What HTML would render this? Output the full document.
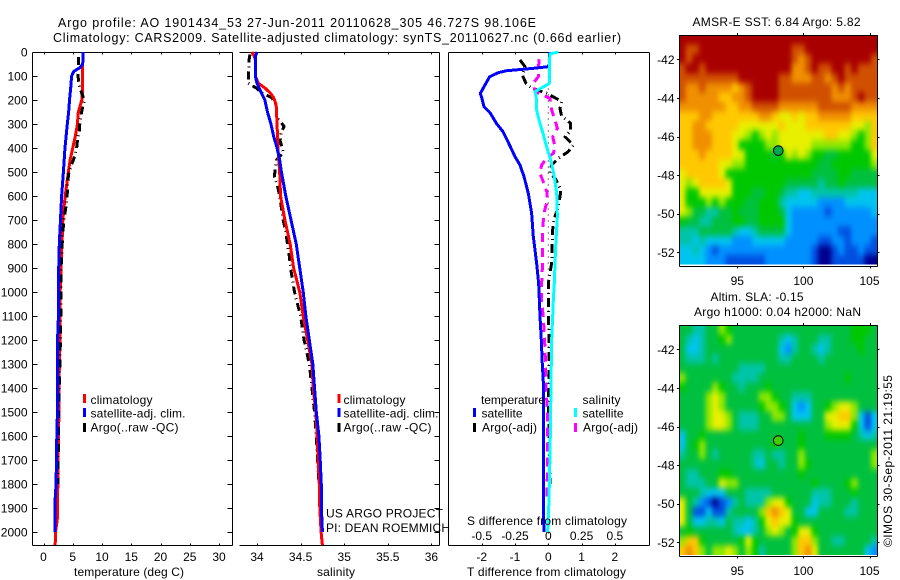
<!DOCTYPE html>
<html lang="en">
<head>
<meta charset="utf-8">
<title>Argo profile chart</title>
<style>
html,body{margin:0;padding:0;background:#fff;}
svg{display:block;}
text{font-family:"Liberation Sans",Arial,sans-serif;font-size:12px;fill:#000;}
text.big{font-size:12.5px;}
</style>
</head>
<body>
<svg id="chart" xmlns="http://www.w3.org/2000/svg" width="900" height="580" viewBox="0 0 900 580">
  <defs>
    <filter id="map-smooth" filterUnits="userSpaceOnUse" x="640" y="0" width="260" height="580" color-interpolation-filters="sRGB">
      <feGaussianBlur stdDeviation="2.4 3.2"/>
    </filter>
    <clipPath id="clip-sst"><rect x="679" y="35" width="199" height="229.5"/></clipPath>
    <clipPath id="clip-sla"><rect x="679" y="325" width="199" height="230"/></clipPath>
  </defs>
  <rect x="0" y="0" width="900" height="580" fill="#fff"/>
  <text class="big" x="58" y="27" textLength="478">Argo profile: AO 1901434_53 27-Jun-2011 20110628_305 46.727S 98.106E</text>
  <text class="big" x="53" y="42" textLength="568">Climatology: CARS2009. Satellite-adjusted climatology: synTS_20110627.nc (0.66d earlier)</text>

  <g id="panel-t"></g>
  <g id="panel-s"></g>
  <g id="panel-d"></g>
  <g id="map-sst"></g>
  <g id="map-sla"></g>

  <text x="74" y="576" textLength="110">temperature (deg C)</text>
  <text x="317" y="576" textLength="38">salinity</text>
  <text x="467" y="576" textLength="159">T difference from climatology</text>
  <text x="467" y="525" textLength="160">S difference from climatology</text>

  <g>
    <rect x="83" y="394" width="3" height="9" fill="#f00"/>
    <text x="90.5" y="404" textLength="62">climatology</text>
    <rect x="83" y="408" width="3" height="9" fill="#00f"/>
    <text x="90.5" y="417.5" textLength="95">satellite-adj. clim.</text>
    <rect x="83" y="423" width="3" height="9" fill="#000"/>
    <text x="90.5" y="431.5" textLength="88">Argo(..raw -QC)</text>
  </g>
  <g>
    <rect x="337.5" y="394" width="3" height="9" fill="#f00"/>
    <text x="343.5" y="404" textLength="62">climatology</text>
    <rect x="337.5" y="408" width="3" height="9" fill="#00f"/>
    <text x="343.5" y="417.5" textLength="95">satellite-adj. clim.</text>
    <rect x="337.5" y="423" width="3" height="9" fill="#000"/>
    <text x="343.5" y="431.5" textLength="88">Argo(..raw -QC)</text>
  </g>
  <text x="326" y="517.5" textLength="117">US ARGO PROJECT</text>
  <text x="326" y="532" textLength="124">PI: DEAN ROEMMICH</text>

  <g>
    <text x="481" y="404" textLength="64">temperature</text>
    <rect x="473" y="408" width="3" height="9" fill="#00f"/>
    <text x="481.5" y="417.5" textLength="41">satellite</text>
    <rect x="473" y="423" width="3" height="9" fill="#000"/>
    <text x="482" y="431.5" textLength="55">Argo(-adj)</text>
    <text x="582.5" y="404" textLength="38">salinity</text>
    <rect x="574" y="408" width="3" height="9" fill="#0ff"/>
    <text x="582.5" y="417.5" textLength="41">satellite</text>
    <rect x="574" y="423" width="3" height="9" fill="#f0f"/>
    <text x="583" y="431.5" textLength="55">Argo(-adj)</text>
  </g>

  <text x="692.5" y="26" textLength="168">AMSR-E SST: 6.84 Argo: 5.82</text>
  <text x="710.5" y="301" textLength="93">Altim. SLA: -0.15</text>
  <text x="694" y="316" textLength="167">Argo h1000: 0.04 h2000: NaN</text>
  <text transform="translate(892,547) rotate(-90)" x="0" y="0" textLength="172">©IMOS 30-Sep-2011 21:19:55</text>
</svg>
<script>
/* ---------- axis tick data ---------- */
const depthTicks = [0,100,200,300,400,500,600,700,800,900,1000,1100,1200,1300,1400,1500,1600,1700,1800,1900,2000];
const tempTicks = [0,5,10,15,20,25,30];
const salTicks = [34,34.5,35,35.5,36];
const salTickLabels = ['34','34.5','35','35.5','36'];
const tDiffTicks = [-2,-1,0,1,2];
const sDiffTicks = [-0.5,-0.25,0,0.25,0.5];
const sDiffTickLabels = ['-0.5','-0.25','0','0.25','0.5'];
const lonTicks = [95,100,105];
const latTicks = [-42,-44,-46,-48,-50,-52];

/* ---------- temperature profiles ---------- */
const tClimDepth = [50,170,200,250,300,350,400,450,500,600,700,800,900,1000,1200,1300,1500,1600,1800,1950,2000,2055];
const tClimValue = [6.65,6.65,6.55,5.95,5.8,5.45,5.0,4.55,4.25,3.7,3.3,3.15,3.0,2.85,2.85,2.7,2.65,2.55,2.45,2.35,2.05,2.0];
const tSatDepth = [0,50,65,80,100,150,200,250,300,400,500,600,700,800,900,1000,1100,1200,1500,1560,1800,1860,2000];
const tSatValue = [6.8,6.7,6.25,5.2,4.8,4.65,4.45,4.3,4.07,3.67,3.4,3.1,2.9,2.7,2.6,2.55,2.55,2.4,2.4,2.3,2.15,2.0,2.0];
const tArgoDepth = [20,100,140,180,200,250,300,340,350,400,430,470,500,550,600,650,700,750,800,900,1000,1100,1250,1400,1500,1800];
const tArgoValue = [6.0,5.9,6.1,6.65,7.0,6.5,6.2,6.1,5.9,5.66,5.4,4.8,4.35,4.1,4.05,3.8,3.5,3.3,3.2,3.0,3.0,2.95,2.85,2.7,2.55,2.5];

/* ---------- salinity profiles ---------- */
const sClimDepth = [0,10,30,100,130,150,170,190,220,300,400,500,600,700,800,900,1000,1100,1200,1300,1400,1500,1600,1700,1800,1900,2000,2055];
const sClimValue = [33.94,33.96,33.98,33.98,34.015,34.09,34.15,34.19,34.22,34.23,34.24,34.26,34.27,34.32,34.38,34.42,34.49,34.53,34.58,34.63,34.645,34.675,34.69,34.70,34.715,34.72,34.735,34.75];
const sSatDepth = [0,20,100,130,170,200,250,300,350,400,450,500,600,700,800,900,1000,1100,1200,1300,1400,1500,1600,1700,1800,1900,1950,2000];
const sSatValue = [34.0,33.98,33.98,34.0,34.05,34.09,34.12,34.16,34.19,34.23,34.26,34.28,34.33,34.39,34.45,34.49,34.53,34.56,34.6,34.64,34.66,34.68,34.71,34.725,34.737,34.737,34.745,34.75];
const sArgoDepth = [10,30,70,100,130,150,170,190,220,270,290,310,340,370,400,420,450,480,520,550,600,650,700,750,800,850,900,1000,1030,1100,1200,1300,1400,1500,1600,1700,1800];
const sArgoValue = [33.92,33.91,33.905,33.90,33.90,33.99,34.05,34.17,34.22,34.225,34.27,34.31,34.275,34.265,34.29,34.30,34.225,34.21,34.2,34.23,34.26,34.28,34.30,34.33,34.35,34.37,34.385,34.43,34.45,34.5,34.54,34.6,34.63,34.66,34.68,34.695,34.71];

/* ---------- difference profiles ---------- */
const dTSatDepth = [0,50,61,68,78,86,103,137,172,200,228,255,297,332,380,436,471,519,589,672,769,880,964,1030,1100,1200,1300,1400,1600,1800,1900,2000];
const dTSatValue = [0.03,0.03,0,-0.45,-1.25,-1.5,-1.76,-1.9,-2.04,-1.98,-1.93,-1.74,-1.56,-1.36,-1.19,-1.0,-0.85,-0.73,-0.6,-0.5,-0.45,-0.35,-0.29,-0.27,-0.25,-0.21,-0.18,-0.14,-0.15,-0.15,-0.15,-0.13];
const dTArgoDepth = [33,61,96,130,151,172,193,207,235,267,297,329,353,388,415,443,471,505,525,575,603,644,700,742,880,964,1030,1200,1500,1800];
const dTArgoValue = [-0.85,-0.7,-0.78,-0.67,-0.5,-0.05,0.23,0.4,0.35,0.4,0.67,0.67,0.5,0.75,0.6,0.3,0.1,0.05,0.2,0.38,0.35,0.3,0.17,0.13,0.1,0,0,0.02,0.01,0.05];
const dSSatDepth = [0,8,47,130,137,165,193,235,283,339,394,464,519,589,686,811,964,1030,1100,1200,1400,1600,1800,1900,2000];
const dSSatValue = [0.075,0.0125,0.008,0.008,-0.01,-0.1,-0.09,-0.09,-0.07,-0.04,-0.013,0.025,0.045,0.063,0.068,0.055,0.045,0.038,0.033,0.025,0.02,0.015,0.008,0.003,-0.005];
const dSArgoDepth = [30,68,103,130,165,193,242,283,318,353,394,422,443,471,505,540,589,630,672,742,880,964,1030,1100,1200,1300,1400,1500,1800,1860];
const dSArgoValue = [-0.068,-0.075,-0.075,-0.113,-0.1,0.0125,0.025,0.05,0.068,0.033,0.05,0.038,-0.0125,-0.05,-0.063,-0.038,-0.008,-0.0125,-0.033,-0.043,-0.043,-0.05,-0.053,-0.038,-0.028,-0.02,-0.018,-0.005,-0.008,-0.008];

/* ---------- map values (colour level per grid cell, north row first) ---------- */
const sstGrid = [
[12,12,12,12,12,12,12,12,12,12,12,12,12,12,12,12,12,12,12,12,12,12,12,12,12,12,12,12,12,12],
[12,11,11,12,12,12,12,12,12,12,12,12,12,12,12,12,12,11,11,12,12,12,12,12,12,12,12,12,12,12],
[12,11,12,12,12,12,12,12,12,12,12,12,12,12,12,12,12,11,10,11,12,12,12,12,12,12,12,12,12,11],
[11,12,12,11,12,12,12,12,12,12,12,12,12,12,12,12,12,10,10,11,12,11,11,12,12,11,12,11,11,11],
[11,11,11,11,11,11,11,11,11,12,12,12,12,12,12,11,11,10,10,10,11,11,10,11,12,11,11,11,11,11],
[11,10,10,11,10,10,10,10,9,10,11,12,12,12,12,11,11,11,11,11,11,11,11,10,11,10,11,11,11,11],
[11,10,10,10,10,10,9,9,10,10,11,12,12,12,12,11,11,11,11,11,11,11,11,10,10,10,11,12,11,11],
[10,10,10,10,10,10,10,9,9,10,10,11,11,11,11,10,10,10,10,10,10,11,11,11,11,11,10,10,10,10],
[9,9,9,10,10,9,9,9,9,9,9,9,10,10,9,8,8,9,8,9,9,10,10,10,10,10,9,9,9,9],
[9,9,10,10,9,9,9,9,9,8,8,8,8,8,8,9,8,8,8,9,9,9,9,9,9,9,8,8,7,9],
[9,9,10,10,10,9,9,9,8,8,7,6,7,8,7,8,8,8,8,8,8,8,9,9,8,8,7,6,7,9],
[9,9,10,10,10,9,9,9,8,6,6,6,6,7,7,8,8,8,8,8,7,7,7,7,7,7,6,6,7,9],
[9,9,9,10,9,9,9,9,8,8,6,6,6,6,5,6,8,7,8,7,6,6,5,5,6,6,6,6,6,8],
[9,9,9,9,9,9,8,8,7,7,6,6,6,6,6,6,6,6,6,6,6,5,5,6,6,6,6,6,6,7],
[8,9,9,9,9,9,8,6,6,6,6,6,6,6,6,6,6,6,6,6,5,5,5,5,6,6,5,5,5,5],
[8,7,8,9,9,9,9,8,6,6,6,6,6,6,6,6,5,5,5,5,5,4,5,5,6,5,5,5,5,5],
[8,6,6,8,8,8,8,8,6,6,6,5,5,6,6,5,4,4,3,3,4,4,4,4,4,4,4,3,3,3],
[8,6,6,6,7,6,7,6,6,6,5,5,6,6,6,4,3,3,3,3,3,2,2,2,2,3,3,3,3,3],
[8,7,5,5,4,4,5,5,6,5,5,5,6,6,6,5,3,2,2,2,2,2,1,2,2,2,2,2,2,3],
[6,5,5,4,4,5,5,5,6,6,5,5,6,6,6,6,3,2,2,2,2,2,2,2,2,2,2,2,2,2],
[4,4,4,5,5,5,5,5,4,3,3,4,5,5,5,5,3,2,2,2,2,2,2,2,1,1,2,2,2,2],
[4,4,3,4,3,3,3,3,2,2,2,3,3,3,3,3,2,2,2,2,2,1,1,2,2,1,2,2,2,1],
[3,3,4,3,2,1,2,2,2,2,2,2,2,2,2,2,2,2,2,2,1,0,0,1,2,1,1,2,1,1],
[3,3,3,3,2,2,2,1,1,1,1,1,1,2,2,2,2,2,2,2,1,0,0,1,1,1,1,1,0,0]
];
const slaGrid = [
[5,5,4,4,5,5,7,6,5,5,5,5,5,5,5,5,5,5,5,5,5,5,5,5,5,5,6,6,6,5],
[5,4,3,4,5,5,6,7,5,5,5,5,5,5,5,4,3,4,5,5,5,4,4,5,5,5,6,6,5,5],
[5,3,3,4,5,5,5,5,5,5,5,5,5,5,5,3,2,4,5,5,4,3,4,5,5,5,5,6,5,5],
[5,4,4,4,5,4,5,5,5,5,5,5,5,5,5,4,4,5,5,5,5,4,5,5,5,5,5,5,5,5],
[5,5,5,5,5,5,5,5,5,4,4,4,4,5,5,5,5,5,5,5,5,5,5,5,5,5,5,5,5,5],
[7,5,5,5,5,5,5,5,4,4,4,4,5,5,5,5,5,5,5,5,5,5,5,5,5,6,5,5,5,5],
[6,5,5,5,5,7,6,5,5,4,5,5,5,6,5,5,5,5,5,5,5,5,5,5,5,5,5,5,5,5],
[5,5,5,5,7,8,7,5,5,5,5,5,7,7,6,5,5,4,4,4,5,5,5,5,5,5,5,5,5,5],
[5,5,5,5,7,8,7,5,5,5,5,5,6,7,7,6,5,3,2,3,5,5,6,7,8,8,7,5,5,5],
[5,5,5,5,7,8,8,7,5,4,4,4,5,5,7,7,5,3,3,3,5,5,8,8,9,9,7,3,1,3],
[5,5,5,5,7,8,8,7,5,4,4,4,5,5,5,5,5,5,5,5,5,5,7,8,8,8,6,3,1,3],
[3,5,5,6,5,5,5,5,5,5,5,5,5,5,5,5,5,5,6,5,5,5,6,6,6,6,5,4,3,4],
[3,5,6,7,5,5,5,5,5,5,5,5,5,5,6,5,5,5,6,5,5,5,5,5,5,5,5,5,5,5],
[4,5,5,7,5,4,5,5,5,5,5,4,4,5,4,4,5,5,7,5,5,5,5,5,5,5,5,5,5,7],
[5,5,5,5,5,5,5,5,5,5,5,4,3,5,5,4,5,5,7,6,5,5,5,5,5,5,5,5,5,7],
[5,4,4,5,5,5,6,6,5,5,5,5,5,5,5,5,5,5,6,5,5,5,5,5,5,5,5,5,5,5],
[5,4,4,4,5,5,8,7,7,5,5,5,5,5,5,5,5,5,5,5,6,5,5,5,5,6,7,5,5,5],
[5,5,5,4,3,3,3,5,5,5,4,4,4,4,5,5,5,5,5,5,4,4,4,5,5,5,6,5,5,5],
[8,5,4,2,1,0,1,2,4,5,4,4,4,7,8,8,6,5,5,5,3,4,4,5,5,5,4,5,5,5],
[8,5,1,1,3,1,1,4,5,5,5,5,7,9,10,9,8,5,5,3,3,5,5,5,5,4,4,5,5,5],
[8,5,3,3,4,4,3,5,4,4,3,4,6,8,9,8,8,6,5,5,5,5,5,5,5,5,5,5,5,5],
[5,6,5,5,5,5,5,5,4,3,3,4,5,7,8,7,5,6,8,8,6,5,5,5,5,5,5,5,5,5],
[7,9,9,6,5,5,5,5,5,6,8,6,5,5,5,5,5,7,9,9,7,5,5,4,4,5,5,5,5,4],
[9,10,9,7,5,7,7,8,7,5,7,6,4,5,5,5,5,7,9,10,8,5,5,5,5,5,5,5,3,2]
];
const argoLon = 98.1;
const argoLat = -46.73;

/* ---------- helpers and axis functions ---------- */
const NS = 'http://www.w3.org/2000/svg';
const colourScale = ['#000090','#0050e0','#0090ff','#00c4f0','#00c4a8','#00c040','#00c800','#90e800','#e8f000','#ffc800','#f09000','#d05000','#a80000'];

function make(parent, tag, attrs, txt) {
  const el = document.createElementNS(NS, tag);
  for (const k in attrs) el.setAttribute(k, attrs[k]);
  if (txt !== undefined) el.textContent = txt;
  parent.appendChild(el);
  return el;
}
const PTOP = 52.5, PBOT = 545.5;
const yDepth = d => 52 + 0.24 * d;
const xTemp = t => 43.5 + 5.85 * t;
const xSal = s => 257 + 87.2 * (s - 34);
const xTDiff = t => 548.3 + 33.3 * t;
const xSDiff = s => 548.3 + 133.2 * s;
const mapX = lon => 737.3 + 13.22 * (lon - 95);

function line(parent, x1, y1, x2, y2, w) {
  return make(parent, 'line', {x1:x1, y1:y1, x2:x2, y2:y2, stroke:'#000', 'stroke-width':w || 1, 'shape-rendering':'crispEdges'});
}
function label(parent, x, y, anchor, txt) {
  return make(parent, 'text', {x:x, y:y, 'text-anchor':anchor}, txt);
}
function series(parent, depths, values, xf, colour, width, dash, name) {
  const pts = depths.map((d, i) => xf(values[i]).toFixed(2) + ',' + yDepth(d).toFixed(2)).join(' ');
  const attrs = {points:pts, fill:'none', stroke:colour, 'stroke-width':width, 'stroke-linejoin':'round', 'shape-rendering':'crispEdges'};
  if (dash) attrs['stroke-dasharray'] = dash;
  const el = make(parent, 'polyline', attrs);
  
  
  return el;
}
function frame(parent, x0, x1, opts) {
  const top = line(parent, x0, PTOP, x1, PTOP);
  
  
  const bottom = line(parent, x0, PBOT, x1, PBOT);
  
  
  const right = line(parent, x1, PTOP, x1, PBOT);
  
  
  if (opts.left) {
    const left = line(parent, x0, PTOP, x0, PBOT);
    
    
  }
  if (opts.depthTicks) {
    depthTicks.forEach(d => {
      const y = Math.round(yDepth(d)) + 0.5;
      if (opts.left) {
        const a = line(parent, x0, y, x0 + 5, y);
        
        
      }
      const b = line(parent, x1 - 5, y, x1, y);
      
      
    });
  }
}
function xTicks(parent, ticks, labels, xf) {
  ticks.forEach((v, i) => {
    const x = Math.round(xf(v)) + 0.5;
    const t = line(parent, x, PTOP, x, PTOP + 2);
    
    
    const b = line(parent, x, PBOT - 2, x, PBOT);
    
    
    const l = label(parent, xf(v), 561, 'middle', labels[i]);
    
    
  });
}

/* ---------- temperature panel ---------- */
const pT = document.getElementById('panel-t');
frame(pT, 32.5, 232.5, {left:true, depthTicks:true});
depthTicks.forEach(d => {
  const l = label(pT, 27.5, yDepth(d) + 4.5, 'end', String(d));
  
  
});
xTicks(pT, tempTicks, tempTicks.map(String), xTemp);
series(pT, tClimDepth, tClimValue, xTemp, '#f00', 3, null, 'temperature-climatology-line');
series(pT, tArgoDepth, tArgoValue, xTemp, '#000', 3, '8 4 1 4', 'temperature-argo-line');
series(pT, tSatDepth, tSatValue, xTemp, '#00f', 3, null, 'temperature-satellite-line');

/* ---------- salinity panel ---------- */
const pS = document.getElementById('panel-s');
frame(pS, 239.5, 439.5, {left:false, depthTicks:true});
xTicks(pS, salTicks, salTickLabels, xSal);
series(pS, sArgoDepth, sArgoValue, xSal, '#000', 3, '8 4 1 4', 'salinity-argo-line');
series(pS, sClimDepth, sClimValue, xSal, '#f00', 3, null, 'salinity-climatology-line');
series(pS, sSatDepth, sSatValue, xSal, '#00f', 3, null, 'salinity-satellite-line');

/* ---------- difference panel ---------- */
const pD = document.getElementById('panel-d');
frame(pD, 448.5, 649.5, {left:true, depthTicks:false});
xTicks(pD, tDiffTicks, tDiffTicks.map(String), xTDiff);
sDiffTicks.forEach((v, i) => {
  const l = label(pD, xSDiff(v), 540, 'middle', sDiffTickLabels[i]);
  
  
});
const zeroLine = make(pD, 'line', {x1:xTDiff(0), y1:PTOP, x2:xTDiff(0), y2:PBOT, stroke:'#000', 'stroke-width':1, 'stroke-dasharray':'1 5'});


series(pD, dTArgoDepth, dTArgoValue, xTDiff, '#000', 3, '9 4 1 4', 't-diff-argo-line');
series(pD, dSArgoDepth, dSArgoValue, xSDiff, '#f0f', 3, '9 6', 's-diff-argo-line');
series(pD, dTSatDepth, dTSatValue, xTDiff, '#00f', 3, null, 't-diff-satellite-line');
series(pD, dSSatDepth, dSSatValue, xSDiff, '#0ff', 3, null, 's-diff-satellite-line');

/* ---------- maps ---------- */
function drawMap(parent, grid, top, heatBottom, axisBottom, y42, dotFill, tickLabelY, clipId) {
  const x0 = 679, x1 = 877.7;
  const bleed = 14;
  const yLat = lat => y42 + 19.3 * (-42 - lat);
  const nRows = grid.length;
  const nCols = grid[0].length;
  const cw = (x1 - x0) / nCols;
  const ch = (heatBottom - top) / nRows;
  const clip = make(parent, 'g', {'clip-path':'url(#' + clipId + ')'});
  
  
  const smooth = make(clip, 'g', {filter:'url(#map-smooth)'});
  
  
  grid.forEach((row, r) => {
    row.forEach((v, c) => {
      /* outer cells bleed past the clip so the smoothing does not fade at the frame */
      const cx0 = x0 + c * cw - (c === 0 ? bleed : 0);
      const cx1 = x0 + (c + 1) * cw + (c === nCols - 1 ? bleed : 0);
      const cy0 = top + r * ch - (r === 0 ? bleed : 0);
      const cy1 = top + (r + 1) * ch + (r === nRows - 1 ? bleed : 0);
      const cell = make(smooth, 'rect', {
        x: cx0.toFixed(2), y: cy0.toFixed(2),
        width: (cx1 - cx0 + 0.6).toFixed(2), height: (cy1 - cy0 + 0.6).toFixed(2),
        fill: colourScale[v], 'shape-rendering':'crispEdges'
      });
      
      
    });
  });
  const edges = [[x0 + .5, top + .5, x1, top + .5], [x0 + .5, axisBottom, x1, axisBottom], [x0 + .5, top + .5, x0 + .5, axisBottom], [x1, top + .5, x1, axisBottom]];
  edges.forEach(e => {
    const ln = line(parent, e[0], e[1], e[2], e[3]);
    
    
  });
  latTicks.forEach(lat => {
    const y = Math.round(yLat(lat)) + 0.5;
    const a = line(parent, x0 - 2, y, x0, y);
    
    
    const b = line(parent, x1, y, x1 + 2, y);
    
    
    const l = label(parent, 674.5, yLat(lat) + 4.5, 'end', String(lat));
    
    
  });
  lonTicks.forEach(lon => {
    const x = Math.round(mapX(lon)) + 0.5;
    const a = line(parent, x, top - 2, x, top);
    
    
    const b = line(parent, x, axisBottom, x, axisBottom + 2);
    
    
    const l = label(parent, mapX(lon), tickLabelY, 'middle', String(lon));
    
    
  });
  const dot = make(parent, 'circle', {cx:mapX(argoLon), cy:yLat(argoLat), r:4.8, fill:dotFill, stroke:'#000', 'stroke-width':1});
  
  
}
drawMap(document.getElementById('map-sst'), sstGrid, 35, 264.5, 266.5, 59.3, '#00a850', 285, 'clip-sst');
drawMap(document.getElementById('map-sla'), slaGrid, 325, 555, 556.5, 349.3, '#40d000', 575, 'clip-sla');
</script>
</body>
</html>
